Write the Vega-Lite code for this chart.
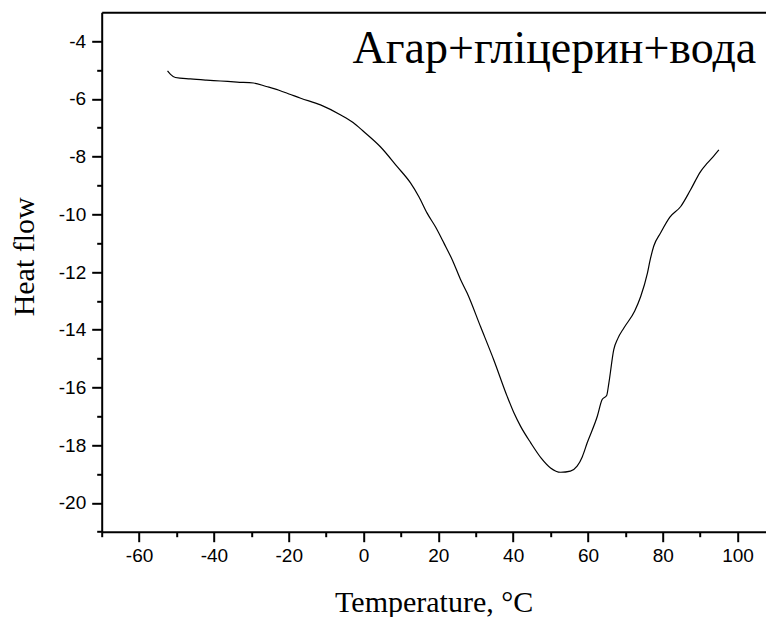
{
  "$schema": "https://vega.github.io/schema/vega-lite/v6.json",
  "autosize": {"type": "none"},
  "padding": {"left": 101.7, "top": 12.3, "right": 0, "bottom": 85.3},
  "width": 664.3,
  "height": 519.4,
  "background": "white",
  "config": {
    "view": {"stroke": null},
    "axis": {
      "labelFont": "Liberation Sans",
      "labelFontSize": 19,
      "labelColor": "black",
      "domainColor": "black",
      "domainWidth": 2,
      "tickColor": "black",
      "tickWidth": 2,
      "grid": false,
      "titleFont": "Liberation Serif",
      "titleFontSize": 30,
      "titleFontWeight": "normal",
      "titleColor": "black"
    }
  },
  "layer": [
    {
      "data": {
        "values": [
          {"t": -52.4, "h": -5.03}, {"t": -51.6, "h": -5.15}, {"t": -50.3, "h": -5.26},
          {"t": -46.3, "h": -5.31}, {"t": -42.0, "h": -5.35}, {"t": -38.2, "h": -5.38},
          {"t": -33.8, "h": -5.42}, {"t": -29.4, "h": -5.45}, {"t": -26.0, "h": -5.57},
          {"t": -22.6, "h": -5.70}, {"t": -19.5, "h": -5.85}, {"t": -16.8, "h": -5.98},
          {"t": -11.5, "h": -6.21}, {"t": -6.1, "h": -6.56}, {"t": -2.8, "h": -6.82},
          {"t": 0.1, "h": -7.14}, {"t": 4.5, "h": -7.66}, {"t": 9.0, "h": -8.35},
          {"t": 12.6, "h": -8.92}, {"t": 14.8, "h": -9.39}, {"t": 17.0, "h": -9.96},
          {"t": 19.3, "h": -10.45}, {"t": 21.5, "h": -11.0}, {"t": 23.8, "h": -11.6},
          {"t": 25.9, "h": -12.25}, {"t": 27.7, "h": -12.73}, {"t": 31.3, "h": -13.9},
          {"t": 34.8, "h": -15.04}, {"t": 38.4, "h": -16.31}, {"t": 40.2, "h": -16.88},
          {"t": 42.0, "h": -17.35}, {"t": 44.7, "h": -17.92}, {"t": 47.5, "h": -18.45},
          {"t": 50.0, "h": -18.79}, {"t": 52.7, "h": -18.94}, {"t": 55.3, "h": -18.9},
          {"t": 57.1, "h": -18.73}, {"t": 58.5, "h": -18.4}, {"t": 59.8, "h": -17.92},
          {"t": 62.5, "h": -17.0}, {"t": 63.8, "h": -16.42}, {"t": 65.0, "h": -16.28},
          {"t": 65.6, "h": -15.84}, {"t": 66.9, "h": -14.69}, {"t": 68.0, "h": -14.3},
          {"t": 69.6, "h": -13.94}, {"t": 72.5, "h": -13.35}, {"t": 74.1, "h": -12.85},
          {"t": 75.9, "h": -12.04}, {"t": 76.6, "h": -11.6}, {"t": 77.6, "h": -11.1},
          {"t": 79.4, "h": -10.65}, {"t": 81.9, "h": -10.10}, {"t": 84.8, "h": -9.73},
          {"t": 87.4, "h": -9.16}, {"t": 90.1, "h": -8.52}, {"t": 91.9, "h": -8.23},
          {"t": 93.5, "h": -8.0}, {"t": 95.0, "h": -7.77}
        ]
      },
      "mark": {"type": "line", "color": "black", "strokeWidth": 1.2, "clip": true, "interpolate": "monotone"},
      "encoding": {
        "x": {
          "field": "t", "type": "quantitative",
          "scale": {"domain": [-70, 107.6], "nice": false, "zero": false},
          "axis": {
            "orient": "bottom",
            "values": [-70, -60, -50, -40, -30, -20, -10, 0, 10, 20, 30, 40, 50, 60, 70, 80, 90, 100],
            "labelExpr": "datum.value % 20 === 0 ? '' + datum.value : ''",
            "tickSize": {"condition": {"test": "datum.value % 20 !== 0", "value": 5}, "value": 10},
            "labelPadding": 5,
            "title": "Temperature, °C",
            "titleX": 332,
            "titleY": 80,
            "titleBaseline": "alphabetic",
            "titleAlign": "center"
          }
        },
        "y": {
          "field": "h", "type": "quantitative",
          "scale": {"domain": [-21, -3], "nice": false, "zero": false},
          "axis": {
            "orient": "left",
            "values": [-21, -20, -19, -18, -17, -16, -15, -14, -13, -12, -11, -10, -9, -8, -7, -6, -5, -4],
            "labelExpr": "datum.value % 2 === 0 ? '' + datum.value : ''",
            "tickSize": {"condition": {"test": "datum.value % 2 !== 0", "value": 5}, "value": 10},
            "labelPadding": 6,
            "title": "Heat flow",
            "titleAngle": -90,
            "titleX": -68,
            "titleY": 244,
            "titleBaseline": "alphabetic",
            "titleAlign": "center"
          }
        }
      }
    },
    {
      "data": {"values": [{"label": "Агар+гліцерин+вода"}]},
      "mark": {"type": "text", "font": "Liberation Serif", "fontSize": 46, "align": "right", "baseline": "alphabetic", "color": "black"},
      "encoding": {
        "x": {"datum": 105, "type": "quantitative", "axis": {"orient": "top", "ticks": false, "labels": false, "title": null, "domainWidth": 2}},
        "y": {"datum": -4.76, "type": "quantitative", "axis": null},
        "text": {"field": "label"}
      }
    }
  ],
  "resolve": {"axis": {"x": "independent", "y": "independent"}}
}
